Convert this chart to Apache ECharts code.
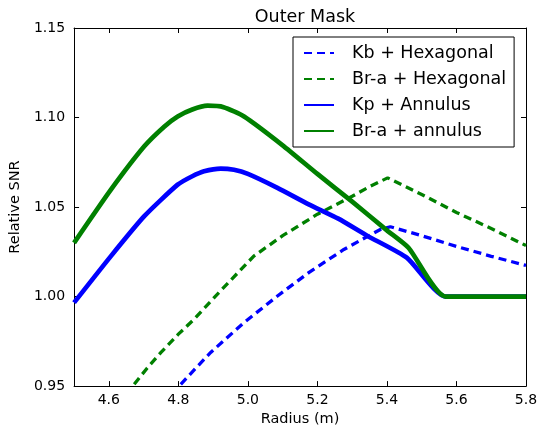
<!DOCTYPE html>
<html><head><meta charset="utf-8">
<script src="https://cdn.jsdelivr.net/npm/echarts@6/dist/echarts.min.js"></script>
<style>html,body{margin:0;padding:0;background:#fff}#c{width:543px;height:432px}</style>
</head><body><div id="c"></div>
<script>
var xTicks = [4.6, 4.8, 5.0, 5.2, 5.4, 5.6, 5.8];
var seriesNames = ['Kb + Hexagonal', 'Br-a + Hexagonal', 'Kp + Annulus', 'Br-a + annulus'];
var kbHexX = [4.807, 4.85, 4.893, 4.94, 4.989, 5.085, 5.175, 5.276, 5.381, 5.41, 5.5, 5.6, 5.7, 5.8];
var kbHexY = [0.951, 0.960, 0.9688, 0.977, 0.9855, 1.0003, 1.0134, 1.0263, 1.0375, 1.039, 1.034, 1.028, 1.0225, 1.0174];
var braHexX = [4.673, 4.71, 4.75, 4.80, 4.845, 4.907, 5.017, 5.1, 5.2, 5.3, 5.352, 5.402, 5.5, 5.6, 5.7, 5.8];
var braHexY = [0.951, 0.960, 0.9688, 0.979, 0.9873, 1.0003, 1.0226, 1.034, 1.046, 1.056, 1.0616, 1.0663, 1.057, 1.047, 1.038, 1.0285];
var kpAnnX = [4.5, 4.606, 4.702, 4.798, 4.84, 4.874, 4.922, 4.96, 5.0, 5.085, 5.175, 5.26, 5.343, 5.457, 5.569, 5.8];
var kpAnnY = [0.9966, 1.0226, 1.0449, 1.0625, 1.0672, 1.070, 1.0715, 1.0708, 1.0685, 1.0607, 1.0515, 1.0435, 1.0340, 1.0217, 1.000, 1.000];
var braAnnX = [4.5, 4.606, 4.702, 4.76, 4.798, 4.84, 4.884, 4.93, 4.989, 5.1, 5.2, 5.3, 5.4, 5.462, 5.569, 5.8];
var braAnnY = [1.030, 1.0597, 1.0839, 1.095, 1.1006, 1.1045, 1.1066, 1.1058, 1.1006, 1.0845, 1.0685, 1.053, 1.037, 1.0273, 1.000, 1.000];

function pairs(xs, ys){ return xs.map(function(x,i){ return [x, ys[i]]; }); }
var FONT = 'DejaVu Sans';
var chart = echarts.init(document.getElementById('c'), null, {renderer:'canvas'});
var axisCommon = {
  axisLine:{show:true, onZero:false, lineStyle:{color:'#000', width:1}},
  splitLine:{show:false}
};
chart.setOption({
  animation:false,
  backgroundColor:'#fff',
  textStyle:{fontFamily:FONT},
  title:{text:'Outer Mask', left:300, top:3, textAlign:'center',
    textStyle:{fontFamily:FONT, fontSize:17.5, fontWeight:'normal', color:'#000'}},
  grid:{left:73, right:17, top:28, bottom:45, containLabel:false},
  legend:{
    orient:'vertical', left:293, top:37,
    backgroundColor:'#fff', borderColor:'#000', borderWidth:1, borderRadius:0,
    padding:[7,8,7,10], itemWidth:30, itemHeight:16, itemGap:8,
    itemStyle:{opacity:0},
    textStyle:{fontFamily:FONT, fontSize:17.5, lineHeight:18, color:'#000', padding:[0,0,0,13]},
    data:seriesNames
  },
  xAxis:[
    Object.assign({type:'value', min:4.5, max:5.8, position:'bottom',
      name:'Radius (m)', nameLocation:'middle', nameGap:25,
      nameTextStyle:{fontFamily:FONT, fontSize:14.5, color:'#000'},
      axisTick:{show:true, inside:true, length:5, customValues:xTicks, lineStyle:{color:'#000'}},
      axisLabel:{show:true, customValues:xTicks, margin:7, fontFamily:FONT, fontSize:14, color:'#000',
        formatter:function(v){return v.toFixed(1);}}}, axisCommon),
    Object.assign({type:'value', min:4.5, max:5.8, position:'top',
      axisTick:{show:true, inside:true, length:5, customValues:xTicks, lineStyle:{color:'#000'}},
      axisLabel:{show:false}}, axisCommon)
  ],
  yAxis:[
    Object.assign({type:'value', min:0.95, max:1.15, interval:0.05, position:'left',
      name:'Relative SNR', nameLocation:'middle', nameGap:39, nameRotate:90,
      nameTextStyle:{fontFamily:FONT, fontSize:14.5, color:'#000'},
      axisTick:{show:true, inside:true, length:5, lineStyle:{color:'#000'}},
      axisLabel:{show:true, margin:9, fontFamily:FONT, fontSize:14, color:'#000',
        formatter:function(v){return v.toFixed(2);}}}, axisCommon),
    Object.assign({type:'value', min:0.95, max:1.15, interval:0.05, position:'right',
      axisTick:{show:true, inside:true, length:5, lineStyle:{color:'#000'}},
      axisLabel:{show:false}}, axisCommon)
  ],
  series:[
    {name:seriesNames[0], type:'line', data:pairs(kbHexX,kbHexY), symbol:'none', smooth:false,
      lineStyle:{color:'#0000ff', width:3.3, type:[8,5], cap:'butt'}, itemStyle:{color:'#0000ff'}},
    {name:seriesNames[1], type:'line', data:pairs(braHexX,braHexY), symbol:'none', smooth:false,
      lineStyle:{color:'#008000', width:3.3, type:[8,5], cap:'butt'}, itemStyle:{color:'#008000'}},
    {name:seriesNames[2], type:'line', data:pairs(kpAnnX,kpAnnY), symbol:'none', smooth:0.2,
      lineStyle:{color:'#0000ff', width:4.7, join:'round'}, itemStyle:{color:'#0000ff'}},
    {name:seriesNames[3], type:'line', data:pairs(braAnnX,braAnnY), symbol:'none', smooth:0.2,
      lineStyle:{color:'#008000', width:4.7, join:'round'}, itemStyle:{color:'#008000'}}
  ]
});
</script></body></html>
